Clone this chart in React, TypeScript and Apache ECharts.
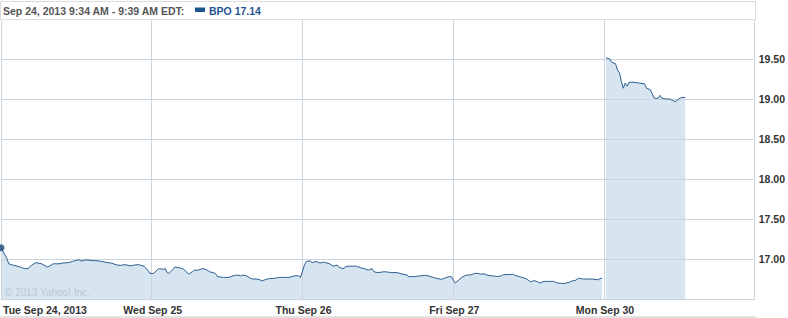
import React, { useEffect, useRef } from "react";
import * as echarts from "echarts";

// Day labels on the time axis (one trading day = 390 minutes, 9:30-16:00)
const dayLabels = ["Tue Sep 24, 2013", "Wed Sep 25", "Thu Sep 26", "Fri Sep 27", "Mon Sep 30"];
const minutesPerDay = 390;

// Minutes after the open and prices, per day
const tueMinutes = [0, 15, 20, 30, 50, 60, 70, 80, 90, 105, 120, 125, 135, 150, 160, 175, 185, 200, 210, 220, 235, 245, 260, 275, 285, 300, 310, 320, 335, 345, 355, 370, 380, 385];
const tuePrices = [17.14, 17.01, 16.94, 16.925, 16.9, 16.88, 16.88, 16.925, 16.955, 16.94, 16.9, 16.91, 16.94, 16.94, 16.95, 16.955, 16.97, 16.99, 16.975, 16.99, 16.98, 16.98, 16.97, 16.955, 16.95, 16.925, 16.92, 16.93, 16.915, 16.925, 16.93, 16.91, 16.86, 16.82];

const wedMinutes = [5, 15, 20, 30, 35, 40, 45, 55, 60, 70, 80, 90, 95, 105, 110, 120, 130, 140, 150, 165, 170, 185, 200, 210, 220, 230, 235, 245, 255, 260, 270, 280, 285, 295, 305, 320, 330, 345, 355, 370, 380, 385];
const wedPrices = [16.82, 16.87, 16.88, 16.87, 16.88, 16.83, 16.82, 16.87, 16.9, 16.89, 16.88, 16.84, 16.81, 16.84, 16.86, 16.86, 16.88, 16.87, 16.84, 16.82, 16.78, 16.77, 16.77, 16.79, 16.8, 16.79, 16.8, 16.79, 16.76, 16.75, 16.75, 16.74, 16.725, 16.745, 16.755, 16.76, 16.77, 16.77, 16.77, 16.79, 16.79, 16.77];

const thuMinutes = [5, 10, 20, 25, 35, 45, 55, 60, 70, 80, 90, 95, 105, 115, 125, 140, 150, 160, 170, 180, 185, 195, 210, 215, 230, 245, 255, 270, 275, 290, 305, 315, 325, 335, 345, 360, 370, 380, 385];
const thuPrices = [16.925, 16.97, 16.975, 16.955, 16.97, 16.95, 16.96, 16.955, 16.94, 16.91, 16.925, 16.895, 16.88, 16.91, 16.91, 16.91, 16.89, 16.88, 16.86, 16.88, 16.84, 16.83, 16.84, 16.84, 16.83, 16.83, 16.815, 16.8, 16.78, 16.78, 16.79, 16.795, 16.79, 16.775, 16.76, 16.745, 16.765, 16.78, 16.78];

const friMinutes = [5, 15, 25, 35, 45, 55, 65, 70, 80, 90, 100, 115, 125, 130, 145, 155, 160, 170, 185, 190, 200, 210, 220, 225, 235, 250, 260, 270, 280, 290, 300, 310, 315, 325, 335, 345, 360, 375, 380, 385];
const friPrices = [16.7, 16.74, 16.78, 16.8, 16.8, 16.82, 16.82, 16.81, 16.815, 16.795, 16.79, 16.78, 16.79, 16.805, 16.805, 16.81, 16.795, 16.78, 16.76, 16.75, 16.715, 16.73, 16.71, 16.7, 16.72, 16.72, 16.72, 16.7, 16.695, 16.695, 16.71, 16.73, 16.73, 16.76, 16.75, 16.75, 16.75, 16.74, 16.755, 16.76];

const monMinutes = [5, 15, 20, 30, 35, 40, 45, 50, 55, 60, 65, 75, 90, 105, 110, 120, 130, 140, 145, 150, 160, 170, 175, 185, 190, 200, 210];
const monPrices = [19.515, 19.5, 19.46, 19.44, 19.36, 19.33, 19.22, 19.135, 19.2, 19.16, 19.21, 19.21, 19.2, 19.19, 19.135, 19.115, 19.01, 19.01, 19.045, 19.01, 19.0, 19.0, 18.99, 18.965, 18.99, 19.02, 19.02];

// Highlighted point (hover readout)
const markerMinute = 0;
const markerPrice = 17.14;
const ticker = "BPO";
const headerRange = "Sep 24, 2013 9:34 AM - 9:39 AM EDT:";

const FONT = "'Liberation Sans', Arial, sans-serif";
const GRID = "#cad5df";
const LINE = "#2d5f93";
const FILL = "#d6e5f0";
const BLUE = "#1d5591";

export default function App() {
  const ref = useRef<HTMLDivElement>(null);

  useEffect(() => {
    if (!ref.current) return;
    const chart = echarts.init(ref.current, undefined, { renderer: "svg" });

    const days: [number[], number[]][] = [
      [tueMinutes, tuePrices],
      [wedMinutes, wedPrices],
      [thuMinutes, thuPrices],
      [friMinutes, friPrices],
      [monMinutes, monPrices],
    ];
    const data: any[] = [];
    days.forEach(([mins, px], d) => {
      if (d === 4) data.push([d * minutesPerDay, "-"]); // gap before Monday
      mins.forEach((m, i) => data.push([d * minutesPerDay + m, px[i]]));
    });

    chart.setOption({
      animation: false,
      grid: { left: 1, right: 32, top: 19, bottom: 19 },
      xAxis: {
        type: "value",
        min: 0,
        max: minutesPerDay * dayLabels.length,
        interval: minutesPerDay,
        z: 2,
        axisLine: { show: true, lineStyle: { color: GRID, width: 1 } },
        axisTick: { show: false },
        splitLine: { show: true, lineStyle: { color: GRID, width: 1 } },
        axisLabel: {
          showMaxLabel: false,
          alignMinLabel: "left",
          margin: 5,
          padding: [0, 0, 0, 2],
          color: "#333",
          fontWeight: "bold",
          fontSize: 10.5,
          fontFamily: FONT,
          formatter: (v: number) => dayLabels[Math.round(v / minutesPerDay)] ?? "",
        },
      },
      yAxis: {
        type: "value",
        position: "right",
        min: 16.5,
        max: 20,
        interval: 0.5,
        z: 2,
        axisLine: { show: false },
        axisTick: { show: false },
        splitLine: { show: true, lineStyle: { color: GRID, width: 1 } },
        axisLabel: {
          showMinLabel: false,
          showMaxLabel: false,
          margin: 4,
          color: "#333",
          fontWeight: "bold",
          fontSize: 10.5,
          fontFamily: FONT,
          formatter: (v: number) => v.toFixed(2),
        },
      },
      series: [
        {
          type: "line",
          data,
          z: 1,
          showSymbol: false,
          connectNulls: false,
          lineStyle: { width: 0, opacity: 0 },
          areaStyle: { color: FILL, opacity: 1, origin: "start" },
          silent: true,
        },
        {
          type: "line",
          data,
          z: 3,
          showSymbol: false,
          connectNulls: false,
          lineStyle: { width: 1, color: LINE },
          silent: true,
        },
        {
          type: "scatter",
          data: [[markerMinute, markerPrice]],
          z: 4,
          symbol: "circle",
          symbolSize: 7,
          itemStyle: { color: "#1a4a7c" },
          silent: true,
        },
      ],
      graphic: [
        {
          type: "rect",
          z: 5,
          shape: { x: 0.5, y: 1.5, width: 755, height: 18 },
          style: { fill: "#fff", stroke: "#dcdcdc", lineWidth: 1 },
        },
        {
          type: "text",
          z: 6,
          x: 3,
          y: 10.5,
          style: {
            text: headerRange,
            fill: "#555",
            fontFamily: FONT,
            fontWeight: "bold",
            fontSize: 10.5,
            verticalAlign: "middle",
          },
        },
        {
          type: "rect",
          z: 6,
          shape: { x: 195, y: 7.5, width: 10, height: 4.5 },
          style: { fill: BLUE },
        },
        {
          type: "text",
          z: 6,
          x: 209,
          y: 10.5,
          style: {
            text: `${ticker} ${markerPrice.toFixed(2)}`,
            fill: BLUE,
            fontFamily: FONT,
            fontWeight: "bold",
            fontSize: 10.5,
            verticalAlign: "middle",
          },
        },
        {
          type: "text",
          z: 6,
          x: 5,
          y: 292,
          style: {
            text: "© 2013 Yahoo! Inc.",
            fill: "#b9c8d5",
            fontFamily: FONT,
            fontSize: 10,
            verticalAlign: "middle",
          },
        },
        {
          type: "rect",
          z: 6,
          shape: { x: 0, y: 316, width: 756, height: 2 },
          style: { fill: "#e2e2e2" },
        },
      ],
    });

    return () => chart.dispose();
  }, []);

  return (
    <div
      ref={ref}
      style={{ position: "fixed", left: 0, top: 0, width: 788, height: 318, background: "#fff" }}
    />
  );
}
